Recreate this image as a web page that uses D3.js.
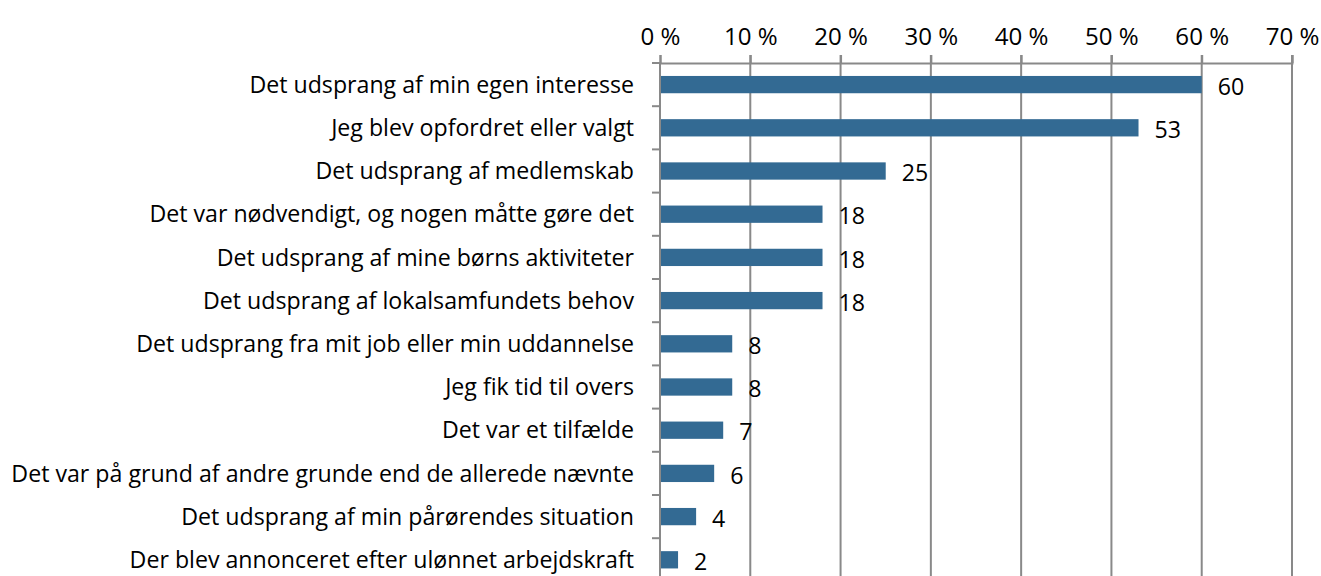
<!DOCTYPE html>
<html><head><meta charset="utf-8">
<script src="https://cdn.jsdelivr.net/npm/d3@7"></script>
<style>
body{margin:0;background:#fff;}
text{font-family:"Open Sans",sans-serif;fill:#000;}
</style></head>
<body>
<svg id="c" width="1321" height="576"></svg>
<script>
const categories = [
 "Det udsprang af min egen interesse",
 "Jeg blev opfordret eller valgt",
 "Det udsprang af medlemskab",
 "Det var nødvendigt, og nogen måtte gøre det",
 "Det udsprang af mine børns aktiviteter",
 "Det udsprang af lokalsamfundets behov",
 "Det udsprang fra mit job eller min uddannelse",
 "Jeg fik tid til overs",
 "Det var et tilfælde",
 "Det var på grund af andre grunde end de allerede nævnte",
 "Det udsprang af min pårørendes situation",
 "Der blev annonceret efter ulønnet arbejdskraft"
];
const values = [60,53,25,18,18,18,8,8,7,6,4,2];
const tickValues = [0,10,20,30,40,50,60,70];

const svg = d3.select("#c");
const mLeft = 660, mRight = 1292, mTop = 63, rowH = 43.2;
const mBottom = mTop + rowH*categories.length;
const x = d3.scaleLinear().domain([0,70]).range([mLeft,mRight]);
const y = d3.scaleBand().domain(categories).range([mTop,mBottom]).paddingInner(0.6).paddingOuter(0.3);
const grid = "#898989";

// measure font
const probe = svg.append("text").style("font-size","20px").text(categories[9]);
const w = probe.node().getComputedTextLength();
probe.remove();
const fs = 20*623/w;

// gridlines
svg.append("g").selectAll("line").data(tickValues.slice(1)).join("line")
 .attr("x1",d=>x(d)).attr("x2",d=>x(d)).attr("y1",mTop-8).attr("y2",576+20)
 .attr("stroke",grid).attr("stroke-width",2);

// top axis
const xa = svg.append("g").attr("transform",`translate(0,${mTop})`)
 .call(d3.axisTop(x).tickValues(tickValues).tickSize(8).tickFormat(d=>d+" %"));
xa.select(".domain").attr("stroke",grid).attr("stroke-width",2);
xa.selectAll(".tick line").attr("stroke",grid).attr("stroke-width",2);
xa.attr("font-family",null).attr("font-size",null);
xa.selectAll(".tick text").style("font-size",(fs*1.04)+"px").attr("y",-18).attr("fill","#000");

// bars
svg.append("g").selectAll("rect").data(values).join("rect")
 .attr("x",x(0)).attr("y",(d,i)=>y(categories[i]))
 .attr("width",d=>x(d)-x(0)).attr("height",y.bandwidth())
 .attr("fill","#336a93");

// left axis
const ya = svg.append("g").attr("transform",`translate(${mLeft},0)`);
ya.append("line").attr("x1",0).attr("x2",0).attr("y1",mTop).attr("y2",mBottom).attr("stroke",grid).attr("stroke-width",2);
ya.selectAll(".t").data(d3.range(categories.length+1)).join("line").attr("class","t")
 .attr("x1",-8).attr("x2",0).attr("y1",i=>mTop+i*rowH).attr("y2",i=>mTop+i*rowH)
 .attr("stroke",grid).attr("stroke-width",2);

// category labels
svg.append("g").selectAll("text").data(categories).join("text")
 .attr("x",mLeft-26).attr("y",d=>y(d)+y.bandwidth()/2).attr("dy","0.35em")
 .attr("text-anchor","end").style("font-size",fs+"px").text(d=>d);

// value labels
svg.append("g").selectAll("text").data(values).join("text")
 .attr("x",d=>x(d)+16).attr("y",(d,i)=>y(categories[i])+y.bandwidth()/2+2).attr("dy","0.35em")
 .style("font-size",fs+"px").text(d=>d);
</script>
</body></html>
